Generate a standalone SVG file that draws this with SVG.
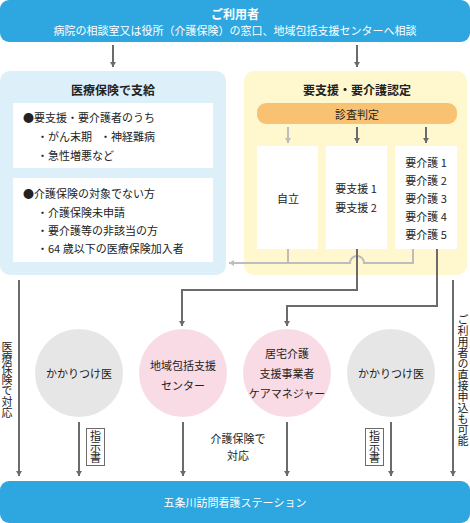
<svg xmlns="http://www.w3.org/2000/svg" width="470" height="523" viewBox="0 0 470 523">
<style>
text{font-family:"Noto Sans CJK JP","Noto Sans",sans-serif;fill:#222;font-size:11px;dominant-baseline:central}
.c{text-anchor:middle}
.w{fill:#fff}
.b{font-weight:bold;font-size:12px}
.v{writing-mode:vertical-rl;text-anchor:middle}
.dk{fill:none;stroke:#6b6b6b;stroke-width:2}
.lt{fill:none;stroke:#bdbdbd;stroke-width:2}
</style>
<defs>
<marker id="ad" markerUnits="userSpaceOnUse" markerWidth="6" markerHeight="6" refX="5" refY="3" orient="auto"><path d="M0,0 L5,3 L0,6 z" fill="#6b6b6b"/></marker>
<marker id="al" markerUnits="userSpaceOnUse" markerWidth="6" markerHeight="6" refX="5" refY="3" orient="auto"><path d="M0,0 L5,3 L0,6 z" fill="#bdbdbd"/></marker>
</defs>

<g id="user">
<rect x="0" y="0" width="470" height="42" rx="9" fill="#2ea7e0"/>
<text class="c w b" x="235" y="13">ご利用者</text>
<text class="c w" x="235" y="30" font-size="10.5">病院の相談室又は役所（介護保険）の窓口、地域包括支援センターへ相談</text>
</g>

<g id="medical">
<rect x="0" y="71" width="226" height="204" rx="10" fill="#ddeff9"/>
<text class="c b" x="113" y="89">医療保険で支給</text>
<rect x="13" y="103" width="200" height="65" fill="#fff"/>
<text x="23" y="117">●要支援・要介護者のうち</text>
<text x="37" y="136">・がん末期</text>
<text x="100" y="136">・神経難病</text>
<text x="37" y="155">・急性増悪など</text>
<rect x="13" y="178" width="200" height="84" fill="#fff"/>
<text x="23" y="193">●介護保険の対象でない方</text>
<text x="37" y="212">・介護保険未申請</text>
<text x="37" y="230">・要介護等の非該当の方</text>
<text x="37" y="248">・64 歳以下の医療保険加入者</text>
</g>

<g id="nintei">
<rect x="244" y="71" width="223" height="204" rx="10" fill="#fff8cf"/>
<text class="c b" x="357" y="89">要支援・要介護認定</text>
<rect x="257" y="103" width="200" height="21" rx="9" fill="#f8c272"/>
<text class="c" x="357" y="114" font-size="12">診査判定</text>
</g>

<g id="jiritsu">
<rect x="257" y="146" width="61" height="103" fill="#fff"/>
<text class="c" x="288" y="198">自立</text>
</g>
<g id="yoshien">
<rect x="326" y="146" width="61" height="103" fill="#fff"/>
<text class="c" x="356" y="188">要支援 1</text>
<text class="c" x="356" y="207">要支援 2</text>
</g>
<g id="yokaigo">
<rect x="395" y="146" width="62" height="103" fill="#fff"/>
<text class="c" x="426" y="162">要介護 1</text>
<text class="c" x="426" y="180">要介護 2</text>
<text class="c" x="426" y="198">要介護 3</text>
<text class="c" x="426" y="216">要介護 4</text>
<text class="c" x="426" y="234">要介護 5</text>
</g>

<g id="doctor1">
<circle cx="79" cy="373" r="44" fill="#e6e6e6"/>
<text class="c" x="79" y="373">かかりつけ医</text>
</g>
<g id="center">
<circle cx="183" cy="373" r="44" fill="#f9dbe6"/>
<text class="c" x="183" y="365">地域包括支援</text>
<text class="c" x="183" y="385">センター</text>
</g>
<g id="caremanager">
<circle cx="287" cy="373" r="44" fill="#f9dbe6"/>
<text class="c" x="287" y="353">居宅介護</text>
<text class="c" x="287" y="373">支援事業者</text>
<text class="c" x="287" y="393">ケアマネジャー</text>
</g>
<g id="doctor2">
<circle cx="391" cy="373" r="44" fill="#e6e6e6"/>
<text class="c" x="391" y="373">かかりつけ医</text>
</g>

<g id="station">
<rect x="0" y="481" width="470" height="42" rx="9" fill="#2ea7e0"/>
<text class="c w" x="235" y="502" font-size="12">五条川訪問看護ステーション</text>
</g>

<g id="connectors">
<path class="dk" d="M113,45 V67" marker-end="url(#ad)"/>
<path class="dk" d="M357,45 V67" marker-end="url(#ad)"/>
<path class="lt" d="M288,127 V143" marker-end="url(#al)"/>
<path class="dk" d="M357,127 V143" marker-end="url(#ad)"/>
<path class="dk" d="M426,127 V143" marker-end="url(#ad)"/>
<path class="lt" d="M288,249 V263"/>
<path class="lt" d="M413,249 V263 H364 A7,7 0 0 0 350,263 H229" marker-end="url(#al)"/>
<path class="dk" d="M357,249 V290 H182 V326" marker-end="url(#ad)"/>
<path class="dk" d="M437,249 V306 H287 V326" marker-end="url(#ad)"/>
<path class="dk" d="M19,280 V476" marker-end="url(#ad)"/>
<path class="dk" d="M453,280 V476" marker-end="url(#ad)"/>
<path class="dk" d="M79,422 V476" marker-end="url(#ad)"/>
<path class="dk" d="M183,422 V476" marker-end="url(#ad)"/>
<path class="dk" d="M287,422 V476" marker-end="url(#ad)"/>
<path class="dk" d="M391,422 V476" marker-end="url(#ad)"/>
<text class="v" x="7" y="380" font-size="10.5">医療保険で対応</text>
<text class="v" x="463" y="380" font-size="10.5">ご利用者の直接申込も可能</text>
<text class="c" x="238" y="438">介護保険で</text>
<text class="c" x="238" y="455">対応</text>
<rect x="86.5" y="428.5" width="18" height="37" fill="#fff" stroke="#6b6b6b" stroke-width="1"/>
<text class="v" x="95.5" y="447">指示書</text>
<rect x="365.5" y="428.5" width="18" height="37" fill="#fff" stroke="#6b6b6b" stroke-width="1"/>
<text class="v" x="374.5" y="447">指示書</text>
</g>
</svg>
